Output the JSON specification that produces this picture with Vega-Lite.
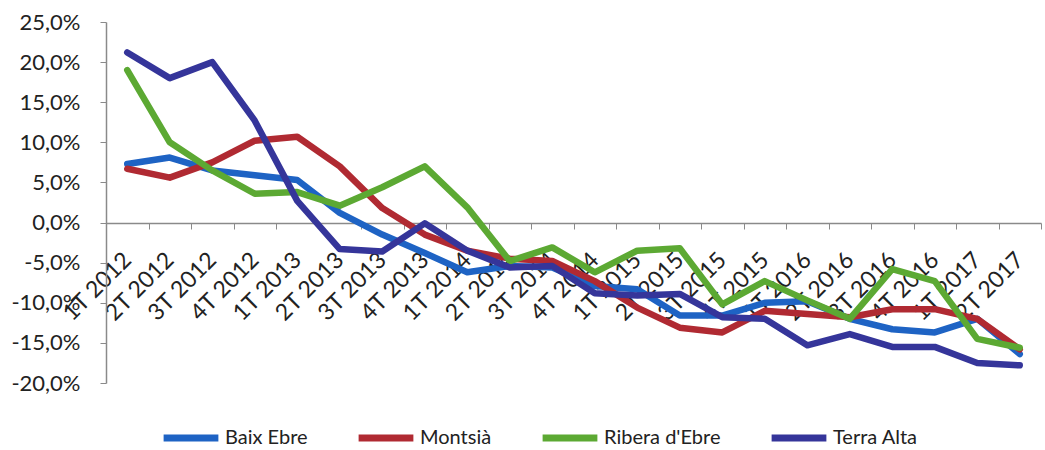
{
  "$schema": "https://vega.github.io/schema/vega-lite/v6.json",
  "autosize": "none",
  "width": 935,
  "height": 361,
  "padding": {"left": 106, "top": 22, "right": 4, "bottom": 67},
  "background": "white",
  "config": {
    "view": {"stroke": null},
    "font": "Lato",
    "axis": {"labelFont": "Lato", "labelColor": "#222222", "domainColor": "#8a8a8a", "tickColor": "#8a8a8a", "grid": false, "title": null},
    "legend": {"labelFont": "Lato"}
  },
  "data": {
    "values": [
      {"region": "Baix Ebre", "q": "1T 2012", "v": 7.3},
      {"region": "Baix Ebre", "q": "2T 2012", "v": 8.1},
      {"region": "Baix Ebre", "q": "3T 2012", "v": 6.5},
      {"region": "Baix Ebre", "q": "4T 2012", "v": 5.9},
      {"region": "Baix Ebre", "q": "1T 2013", "v": 5.3},
      {"region": "Baix Ebre", "q": "2T 2013", "v": 1.2},
      {"region": "Baix Ebre", "q": "3T 2013", "v": -1.5},
      {"region": "Baix Ebre", "q": "4T 2013", "v": -3.8},
      {"region": "Baix Ebre", "q": "1T 2014", "v": -6.2},
      {"region": "Baix Ebre", "q": "2T 2014", "v": -5.4},
      {"region": "Baix Ebre", "q": "3T 2014", "v": -5.6},
      {"region": "Baix Ebre", "q": "4T 2014", "v": -7.9},
      {"region": "Baix Ebre", "q": "1T 2015", "v": -8.3},
      {"region": "Baix Ebre", "q": "2T 2015", "v": -11.6},
      {"region": "Baix Ebre", "q": "3T 2015", "v": -11.6},
      {"region": "Baix Ebre", "q": "4T 2015", "v": -10.0},
      {"region": "Baix Ebre", "q": "1T 2016", "v": -9.8},
      {"region": "Baix Ebre", "q": "2T 2016", "v": -12.0},
      {"region": "Baix Ebre", "q": "3T 2016", "v": -13.3},
      {"region": "Baix Ebre", "q": "4T 2016", "v": -13.7},
      {"region": "Baix Ebre", "q": "1T 2017", "v": -12.0},
      {"region": "Baix Ebre", "q": "2T 2017", "v": -16.4},
      {"region": "Montsià", "q": "1T 2012", "v": 6.7},
      {"region": "Montsià", "q": "2T 2012", "v": 5.6},
      {"region": "Montsià", "q": "3T 2012", "v": 7.5},
      {"region": "Montsià", "q": "4T 2012", "v": 10.2},
      {"region": "Montsià", "q": "1T 2013", "v": 10.7},
      {"region": "Montsià", "q": "2T 2013", "v": 7.0},
      {"region": "Montsià", "q": "3T 2013", "v": 1.8},
      {"region": "Montsià", "q": "4T 2013", "v": -1.5},
      {"region": "Montsià", "q": "1T 2014", "v": -3.5},
      {"region": "Montsià", "q": "2T 2014", "v": -4.5},
      {"region": "Montsià", "q": "3T 2014", "v": -4.8},
      {"region": "Montsià", "q": "4T 2014", "v": -7.3},
      {"region": "Montsià", "q": "1T 2015", "v": -10.6},
      {"region": "Montsià", "q": "2T 2015", "v": -13.1},
      {"region": "Montsià", "q": "3T 2015", "v": -13.7},
      {"region": "Montsià", "q": "4T 2015", "v": -11.0},
      {"region": "Montsià", "q": "1T 2016", "v": -11.4},
      {"region": "Montsià", "q": "2T 2016", "v": -11.8},
      {"region": "Montsià", "q": "3T 2016", "v": -10.8},
      {"region": "Montsià", "q": "4T 2016", "v": -10.8},
      {"region": "Montsià", "q": "1T 2017", "v": -12.0},
      {"region": "Montsià", "q": "2T 2017", "v": -15.8},
      {"region": "Ribera d'Ebre", "q": "1T 2012", "v": 19.0},
      {"region": "Ribera d'Ebre", "q": "2T 2012", "v": 10.0},
      {"region": "Ribera d'Ebre", "q": "3T 2012", "v": 6.5},
      {"region": "Ribera d'Ebre", "q": "4T 2012", "v": 3.6},
      {"region": "Ribera d'Ebre", "q": "1T 2013", "v": 3.8},
      {"region": "Ribera d'Ebre", "q": "2T 2013", "v": 2.1},
      {"region": "Ribera d'Ebre", "q": "3T 2013", "v": 4.4},
      {"region": "Ribera d'Ebre", "q": "4T 2013", "v": 7.0},
      {"region": "Ribera d'Ebre", "q": "1T 2014", "v": 1.9},
      {"region": "Ribera d'Ebre", "q": "2T 2014", "v": -4.8},
      {"region": "Ribera d'Ebre", "q": "3T 2014", "v": -3.1},
      {"region": "Ribera d'Ebre", "q": "4T 2014", "v": -6.2},
      {"region": "Ribera d'Ebre", "q": "1T 2015", "v": -3.5},
      {"region": "Ribera d'Ebre", "q": "2T 2015", "v": -3.2},
      {"region": "Ribera d'Ebre", "q": "3T 2015", "v": -10.2},
      {"region": "Ribera d'Ebre", "q": "4T 2015", "v": -7.3},
      {"region": "Ribera d'Ebre", "q": "1T 2016", "v": -9.7},
      {"region": "Ribera d'Ebre", "q": "2T 2016", "v": -12.0},
      {"region": "Ribera d'Ebre", "q": "3T 2016", "v": -5.8},
      {"region": "Ribera d'Ebre", "q": "4T 2016", "v": -7.3},
      {"region": "Ribera d'Ebre", "q": "1T 2017", "v": -14.5},
      {"region": "Ribera d'Ebre", "q": "2T 2017", "v": -15.6},
      {"region": "Terra Alta", "q": "1T 2012", "v": 21.2},
      {"region": "Terra Alta", "q": "2T 2012", "v": 18.0},
      {"region": "Terra Alta", "q": "3T 2012", "v": 20.0},
      {"region": "Terra Alta", "q": "4T 2012", "v": 12.7},
      {"region": "Terra Alta", "q": "1T 2013", "v": 2.7},
      {"region": "Terra Alta", "q": "2T 2013", "v": -3.3},
      {"region": "Terra Alta", "q": "3T 2013", "v": -3.6},
      {"region": "Terra Alta", "q": "4T 2013", "v": -0.1},
      {"region": "Terra Alta", "q": "1T 2014", "v": -3.5},
      {"region": "Terra Alta", "q": "2T 2014", "v": -5.6},
      {"region": "Terra Alta", "q": "3T 2014", "v": -5.4},
      {"region": "Terra Alta", "q": "4T 2014", "v": -8.8},
      {"region": "Terra Alta", "q": "1T 2015", "v": -9.1},
      {"region": "Terra Alta", "q": "2T 2015", "v": -8.9},
      {"region": "Terra Alta", "q": "3T 2015", "v": -11.8},
      {"region": "Terra Alta", "q": "4T 2015", "v": -12.0},
      {"region": "Terra Alta", "q": "1T 2016", "v": -15.3},
      {"region": "Terra Alta", "q": "2T 2016", "v": -13.9},
      {"region": "Terra Alta", "q": "3T 2016", "v": -15.5},
      {"region": "Terra Alta", "q": "4T 2016", "v": -15.5},
      {"region": "Terra Alta", "q": "1T 2017", "v": -17.5},
      {"region": "Terra Alta", "q": "2T 2017", "v": -17.8}
    ]
  },
  "mark": {"type": "line", "strokeWidth": 6.5, "strokeCap": "round", "strokeJoin": "round"},
  "encoding": {
    "x": {
      "field": "q",
      "type": "ordinal",
      "sort": null,
      "bandPosition": 0.5,
      "scale": {"type": "band", "paddingInner": 0, "paddingOuter": 0},
      "axis": {
        "offset": -160,
        "labelAngle": -45,
        "labelAlign": "right",
        "labelBaseline": "middle",
        "labelFontSize": 23,
        "labelPadding": 27,
        "tickSize": 6,
        "tickBand": "extent",
        "labelOverlap": false,
        "domainWidth": 1.5
      }
    },
    "y": {
      "field": "v",
      "type": "quantitative",
      "scale": {"domain": [-20, 25], "nice": false, "zero": false},
      "axis": {
        "values": [-20, -15, -10, -5, 0, 5, 10, 15, 20, 25],
        "labelExpr": "replace(replace(format(datum.value, '.1f'), '.', ','), '\u2212', '-') + '%'",
        "labelFontSize": 22,
        "labelPadding": 20,
        "tickSize": 6,
        "domainWidth": 1.5
      }
    },
    "color": {
      "field": "region",
      "type": "nominal",
      "scale": {
        "domain": ["Baix Ebre", "Montsià", "Ribera d'Ebre", "Terra Alta"],
        "range": ["#1E63C4", "#B02A32", "#5CA933", "#35359A"]
      },
      "legend": {
        "title": null,
        "orient": "none",
        "direction": "horizontal",
        "legendX": 54,
        "legendY": 385,
        "symbolType": "stroke",
        "symbolSize": 3000,
        "symbolStrokeWidth": 7,
        "labelFontSize": 20,
        "labelColor": "#222222",
        "labelOffset": 3,
        "columnPadding": 36
      }
    }
  }
}
